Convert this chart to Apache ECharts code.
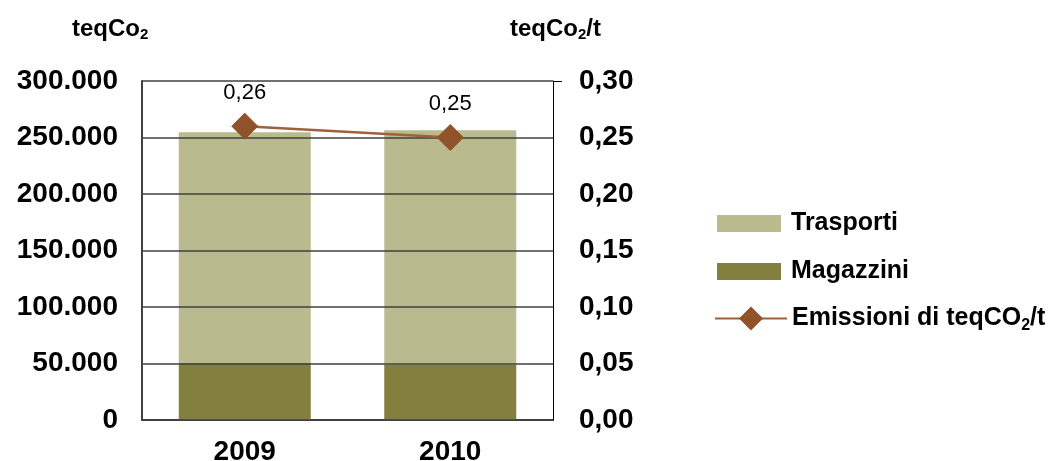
<!DOCTYPE html>
<html>
<head>
<meta charset="utf-8">
<script src="https://cdn.jsdelivr.net/npm/echarts@6/dist/echarts.min.js"></script>
<style>
  html, body { margin: 0; padding: 0; background: #fff; }
  #chart { width: 1062px; height: 461px; }
</style>
</head>
<body>
<div id="chart"></div>
<script>
// Years shown on the category axis
const years = ['2009', '2010'];
// Emissions in tonnes of CO2 equivalent, by source
const magazzini = [50400, 48600];
const trasporti = [204200, 207800];
// Emissions per tonne handled
const emissioniPerT = [0.26, 0.25];
// Axis tick ranges
const leftTicks = { min: 0, max: 300000, interval: 50000 };
const rightTicks = { min: 0, max: 0.3, interval: 0.05 };

const FONT = "'Liberation Sans', Arial, sans-serif";
const fmtThousands = v => v === 0 ? '0' : String(v).replace(/\B(?=(\d{3})+(?!\d))/g, '.');
const fmtDec = v => v.toFixed(2).replace('.', ',');

const legendRich = {
  f: { fontSize: 25, fontWeight: 'bold', fontFamily: FONT, color: '#000', padding: [0, 0, 0, 5] },
  t: { fontSize: 25, fontWeight: 'bold', fontFamily: FONT, color: '#000' },
  s: { fontSize: 16, fontWeight: 'bold', fontFamily: FONT, color: '#000', verticalAlign: 'bottom', padding: [14, 0, 0, 0] }
};
const nameRich = {
  t: { fontSize: 24, fontWeight: 'bold', fontFamily: FONT, fill: '#000' },
  s: { fontSize: 15, fontWeight: 'bold', fontFamily: FONT, fill: '#000', verticalAlign: 'bottom', padding: [12, 0, 0, 0] }
};

const chart = echarts.init(document.getElementById('chart'));
chart.setOption({
  animation: false,
  textStyle: { fontFamily: FONT },
  grid: { left: 142, right: 509, top: 81, bottom: 41, outerBoundsMode: 'none' },
  legend: [
    {
      orient: 'vertical',
      left: 717,
      top: 211,
      padding: 0,
      itemWidth: 64,
      itemHeight: 17,
      itemGap: 23,
      icon: 'rect',
      data: ['Trasporti', 'Magazzini'],
      formatter: n => '{f|' + n + '}',
      textStyle: { rich: legendRich }
    },
    {
      orient: 'vertical',
      left: 714,
      top: 306,
      padding: 0,
      itemWidth: 72,
      itemHeight: 30,
      data: ['Emissioni di teqCO2/t'],
      formatter: () => '{t|Emissioni di teqCO}{s|2}{t|/t}',
      textStyle: { rich: legendRich }
    }
  ],
  xAxis: {
    type: 'category',
    data: years,
    axisLine: { lineStyle: { color: '#404040', width: 2 } },
    axisTick: { show: false },
    axisLabel: { fontSize: 28, fontWeight: 'bold', color: '#000', margin: 18, fontFamily: FONT }
  },
  yAxis: [
    {
      type: 'value',
      min: leftTicks.min, max: leftTicks.max, interval: leftTicks.interval,
      z: 5,
      axisLine: { show: true, lineStyle: { color: '#404040', width: 2 } },
      axisTick: { show: false },
      splitLine: { show: true, lineStyle: { color: '#404040', width: 1.5 } },
      axisLabel: { fontSize: 28, fontWeight: 'bold', color: '#000', margin: 24, formatter: fmtThousands, fontFamily: FONT }
    },
    {
      type: 'value',
      min: rightTicks.min, max: rightTicks.max, interval: rightTicks.interval,
      position: 'right',
      z: 5,
      axisLine: { show: true, lineStyle: { color: '#000', width: 1 } },
      axisTick: { show: false },
      splitLine: { show: false },
      axisLabel: { fontSize: 28, fontWeight: 'bold', color: '#000', margin: 26, formatter: fmtDec, fontFamily: FONT }
    }
  ],
  series: [
    {
      name: 'Magazzini', type: 'bar', stack: 'tot', data: magazzini,
      barWidth: 132, itemStyle: { color: '#837f3f' }
    },
    {
      name: 'Trasporti', type: 'bar', stack: 'tot', data: trasporti,
      barWidth: 132, itemStyle: { color: '#b9bb8f' }
    },
    {
      name: 'Emissioni di teqCO2/t', type: 'line', yAxisIndex: 1, data: emissioniPerT,
      z: 10,
      symbol: 'diamond', symbolSize: 26,
      lineStyle: { color: '#a0603a', width: 2.5 },
      itemStyle: { color: '#8f5229', borderColor: '#8f5229' },
      label: {
        show: true, position: 'top', distance: 9,
        fontSize: 22, color: '#000', fontFamily: FONT,
        formatter: p => fmtDec(p.value)
      }
    }
  ],
  graphic: [
    {
      type: 'text', left: 72, top: 17,
      style: { text: '{t|teqCo}{s|2}', rich: nameRich }
    },
    {
      type: 'text', left: 510, top: 17,
      style: { text: '{t|teqCo}{s|2}{t|/t}', rich: nameRich }
    },
    // short outward stub where the top gridline meets the right axis
    {
      type: 'line', z: 10,
      shape: { x1: 553, y1: 81.5, x2: 562, y2: 81.5 },
      style: { stroke: '#000', lineWidth: 1 }
    }
  ]
});
</script>
</body>
</html>
